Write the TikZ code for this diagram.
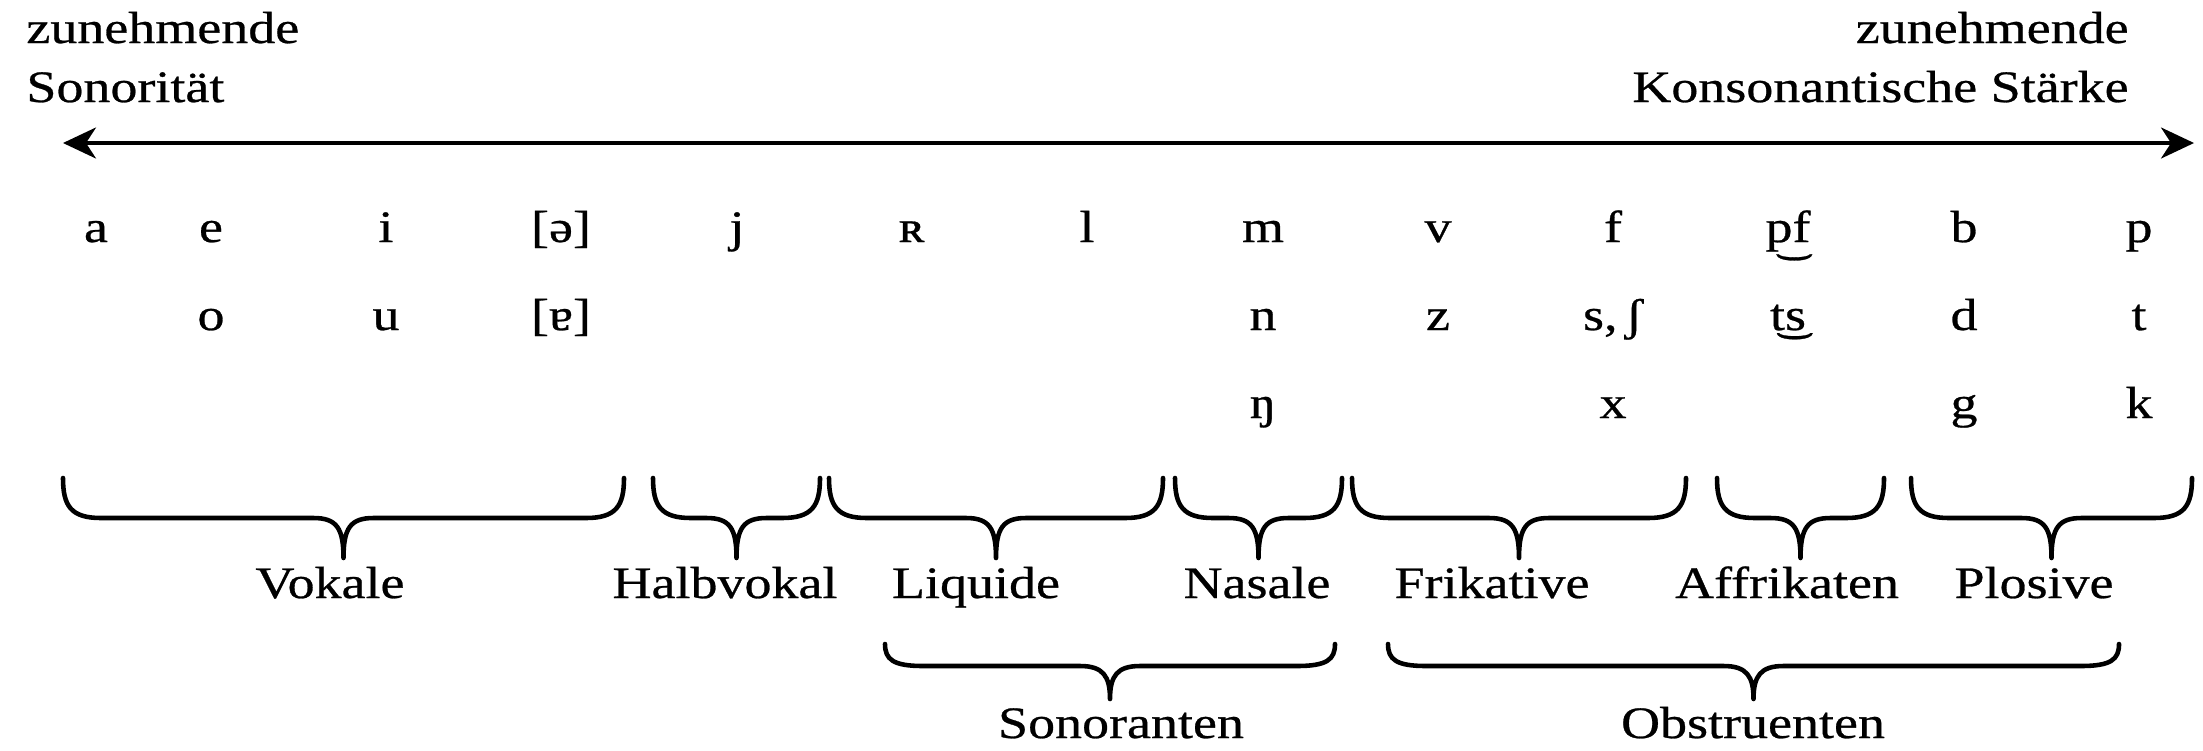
\documentclass[tikz,border=0pt]{standalone}
\usepackage{fontspec}
\setmainfont{Liberation Serif}[FakeStretch=1.2, FakeBold=0.6]
\usetikzlibrary{arrows.meta}

\tikzset{
  laut/.style={anchor=base},
  klasse/.style={anchor=base},
  spange/.style={line width=1.3pt, line join=round, line cap=round},
}

% geschweifte Klammer: links, rechts, oben, Tiefe der Waagrechten, Tiefe der Spitze
\newcommand{\klammer}[5]{%
  \draw[spange] (#1,#3) .. controls (#1,#3-0.7*#4) and (#1+0.08,#3-#4) .. (#1+0.38,#3-#4)
    -- ({(#1+#2)/2-0.3},#3-#4) .. controls ({(#1+#2)/2-0.07},#3-#4) and ({(#1+#2)/2},#3-#4-0.1) .. ({(#1+#2)/2},#3-#5)
    .. controls ({(#1+#2)/2},#3-#4-0.1) and ({(#1+#2)/2+0.07},#3-#4) .. ({(#1+#2)/2+0.3},#3-#4)
    -- (#2-0.38,#3-#4) .. controls (#2-0.08,#3-#4) and (#2,#3-0.7*#4) .. (#2,#3);}

\begin{document}
\begin{tikzpicture}[font=\fontsize{12.8pt}{15pt}\selectfont]
\useasboundingbox (0,0) rectangle (22.03,-7.5);

\node[anchor=base west] (sono1) at (0.14,-0.43) {zunehmende};
\node[anchor=base west] (sono2) at (0.14,-1.02) {Sonorität};
\node[anchor=base east] (kons1) at (21.41,-0.43) {zunehmende};
\node[anchor=base east] (kons2) at (21.41,-1.02) {Konsonantische Stärke};

\coordinate (links) at (0.63,-1.43);
\coordinate (rechts) at (21.94,-1.43);
\draw[line width=1pt, {Stealth[length=3.3mm,width=3.1mm,inset=1mm]}-{Stealth[length=3.3mm,width=3.1mm,inset=1mm]}] (links) -- (rechts);

% Vokale
\node[laut] (a) at (0.96,-2.42) {a};
\node[laut] (e) at (2.11,-2.42) {e};
\node[laut] (o) at (2.11,-3.3) {o};
\node[laut] (i) at (3.86,-2.42) {i};
\node[laut] (u) at (3.86,-3.3) {u};
\node[laut] (schwa) at (5.61,-2.42) {[ə]};
\node[laut] (ar) at (5.61,-3.3) {[ɐ]};

% Halbvokal, Liquide, Nasale
\node[laut] (j) at (7.37,-2.42) {j};
\node[laut] (R) at (9.12,-2.42) {ʀ};
\node[laut] (l) at (10.87,-2.42) {l};
\node[laut] (m) at (12.63,-2.42) {m};
\node[laut] (n) at (12.63,-3.3) {n};
\node[laut] (ng) at (12.63,-4.18) {ŋ};

% Obstruenten
\node[laut] (v) at (14.38,-2.42) {v};
\node[laut] (z) at (14.38,-3.3) {z};
\node[laut] (f) at (16.13,-2.42) {f};
\node[laut] (s) at (16.13,-3.3) {s,\,ʃ};
\node[laut] (x) at (16.13,-4.18) {x};
\node[laut] (pf) at (17.88,-2.42) {p͜f};
\node[laut] (ts) at (17.88,-3.3) {t͜s};
\node[laut] (b) at (19.64,-2.42) {b};
\node[laut] (d) at (19.64,-3.3) {d};
\node[laut] (g) at (19.64,-4.18) {g};
\node[laut] (p) at (21.39,-2.42) {p};
\node[laut] (t) at (21.39,-3.3) {t};
\node[laut] (k) at (21.39,-4.18) {k};

% Klammern, erste Reihe
\klammer{0.63}{6.24}{-4.78}{0.4}{0.8}
\klammer{6.53}{8.2}{-4.78}{0.4}{0.8}
\klammer{8.29}{11.63}{-4.78}{0.4}{0.8}
\klammer{11.75}{13.42}{-4.78}{0.4}{0.8}
\klammer{13.52}{16.86}{-4.78}{0.4}{0.8}
\klammer{17.17}{18.84}{-4.78}{0.4}{0.8}
\klammer{19.11}{21.92}{-4.78}{0.4}{0.8}

\node[klasse] (vokale) at (3.3,-5.98) {Vokale};
\node[klasse] (halbvokal) at (7.25,-5.98) {Halbvokal};
\node[klasse] (liquide) at (9.76,-5.98) {Liquide};
\node[klasse] (nasale) at (12.57,-5.98) {Nasale};
\node[klasse] (frikative) at (14.92,-5.98) {Frikative};
\node[klasse] (affrikaten) at (17.87,-5.98) {Affrikaten};
\node[klasse] (plosive) at (20.34,-5.98) {Plosive};

% Klammern, zweite Reihe
\klammer{8.85}{13.35}{-6.44}{0.22}{0.55}
\klammer{13.88}{21.19}{-6.44}{0.22}{0.55}

\node[klasse] (sonoranten) at (11.21,-7.38) {Sonoranten};
\node[klasse] (obstruenten) at (17.53,-7.38) {Obstruenten};
\end{tikzpicture}
\end{document}
